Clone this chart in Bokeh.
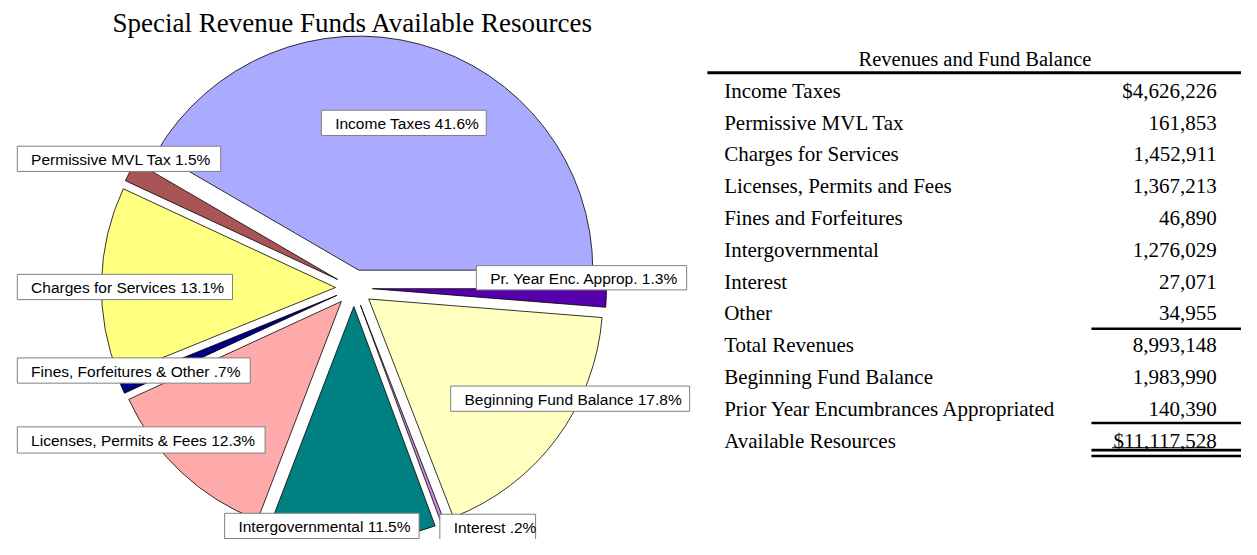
import numpy as np
from bokeh.plotting import figure
from bokeh.models import Range1d, ColumnDataSource
from bokeh.core.properties import value
from bokeh.embed import file_html
from bokeh.resources import INLINE

# ---------------- data ----------------
title = "Special Revenue Funds Available Resources"
table_title = "Revenues and Fund Balance"
table_labels = ["Income Taxes", "Permissive MVL Tax", "Charges for Services",
                "Licenses, Permits and Fees", "Fines and Forfeitures", "Intergovernmental",
                "Interest", "Other", "Total Revenues", "Beginning Fund Balance",
                "Prior Year Encumbrances Appropriated", "Available Resources"]
table_values = [4626226, 161853, 1452911, 1367213, 46890, 1276029, 27071, 34955,
                8993148, 1983990, 140390, 11117528]

# pie slices, anticlockwise from 3 o'clock
slice_names = ["Income Taxes", "Permissive MVL Tax", "Charges for Services",
               "Fines, Forfeitures & Other", "Licenses, Permits & Fees",
               "Intergovernmental", "Interest", "Beginning Fund Balance",
               "Pr. Year Enc. Approp."]
slice_values = [4626226, 161853, 1452911, 46890 + 34955, 1367213, 1276029, 27071,
                1983990, 140390]
slice_colors = ["#AAAAFF", "#AA5555", "#FFFF80", "#000080", "#FFAAAA", "#008080",
                "#CC88DD", "#FFFFC0", "#5500AA"]

# ---------------- layout ----------------
W, H = 1241, 539
SX, SY = W / 1257, H / 555
def X(px):
    return np.asarray(px, dtype=float) * SX
def Y(py):
    return H - np.asarray(py, dtype=float) * SY

p = figure(width=W, height=H, x_range=Range1d(0, W), y_range=Range1d(0, H),
           output_backend="svg", toolbar_location=None, min_border=0,
           x_axis_location=None, y_axis_location=None)
p.grid.visible = False
p.outline_line_color = None
p.background_fill_color = "white"
p.border_fill_color = "white"

# pie geometry
cx, cy = float(X(358)), float(Y(296))
R = 241 * SY
explode = 19 * SY

vals = np.array(slice_values, dtype=float)
total = vals.sum()
ends = np.cumsum(vals) / total * 2 * np.pi
starts = np.concatenate([[0.0], ends[:-1]])
mids = (starts + ends) / 2
src = ColumnDataSource(dict(
    x=cx + explode * np.cos(mids), y=cy + explode * np.sin(mids),
    start=starts, end=ends, color=slice_colors))
p.wedge(x="x", y="y", radius=R, start_angle="start", end_angle="end",
        direction="anticlock", fill_color="color", line_color="black",
        line_width=0.8, source=src)

# slice labels (boxes: left, top, right, bottom)
label_boxes = [(325, 113, 492, 139), (17, 150, 223, 176), (17, 282, 235, 308),
               (17, 368, 253, 394), (17, 439, 268, 466), (227, 528, 424, 554),
               (445, 529, 542, 555), (456, 397, 698, 423), (482, 273, 695, 298)]

def fmt_pct(v):
    s = f"{v / total * 100:.1f}"
    if s.startswith("0"):
        s = s[1:]
    return s + "%"

texts = [f"{n} {fmt_pct(v)}" for n, v in zip(slice_names, vals)]
lb = np.array(label_boxes, dtype=float)
p.quad(left=X(lb[:, 0]), right=X(lb[:, 2]), top=Y(lb[:, 1]), bottom=Y(lb[:, 3]),
       fill_color="white", line_color="#808080", line_width=1)
p.text(x=X(lb[:, 0] + 14), y=Y((lb[:, 1] + lb[:, 3]) / 2 + 1), text=texts,
       text_font=value("Liberation Sans"), text_font_size=value("15.5px"),
       text_baseline="middle", text_align="left", text_color="black")

# title
p.text(x=[X(357)], y=[Y(23)], text=[title], text_font=value("Liberation Serif"),
       text_font_size=value("27px"), text_baseline="middle", text_align="center",
       text_color="black")

# ---------------- table ----------------
p.text(x=[X(987)], y=[Y(60)], text=[table_title], text_font=value("Liberation Serif"),
       text_font_size=value("20.5px"), text_baseline="middle", text_align="center",
       text_color="black")
row_y0, row_dy = 93, 32.75
rows_y = Y(row_y0 + np.arange(len(table_labels)) * row_dy)

def fmt_val(i, v):
    s = f"{v:,}"
    if i == 0 or i == len(table_values) - 1:
        s = "$" + s
    return s

val_txt = [fmt_val(i, v) for i, v in enumerate(table_values)]
p.text(x=[float(X(733))] * len(table_labels), y=rows_y, text=table_labels,
       text_font=value("Liberation Serif"), text_font_size=value("21px"),
       text_baseline="middle", text_align="left", text_color="black")
p.text(x=[float(X(1232))] * len(table_values), y=rows_y, text=val_txt,
       text_font=value("Liberation Serif"), text_font_size=value("21px"),
       text_baseline="middle", text_align="right", text_color="black")

# rules
p.segment(x0=X([716]), y0=Y([74.5]), x1=X([1257]), y1=Y([74.5]), line_color="black", line_width=3)
ys = Y([338, 435, 463, 469])
p.segment(x0=X([1105] * 4), y0=ys, x1=X([1257] * 4), y1=ys,
          line_color="black", line_width=2.6)
p.segment(x0=X([1126]), y0=Y([460.5]), x1=X([1229]), y1=Y([460.5]), line_color="black", line_width=1)

open("out.html", "w").write(file_html(p, INLINE))
